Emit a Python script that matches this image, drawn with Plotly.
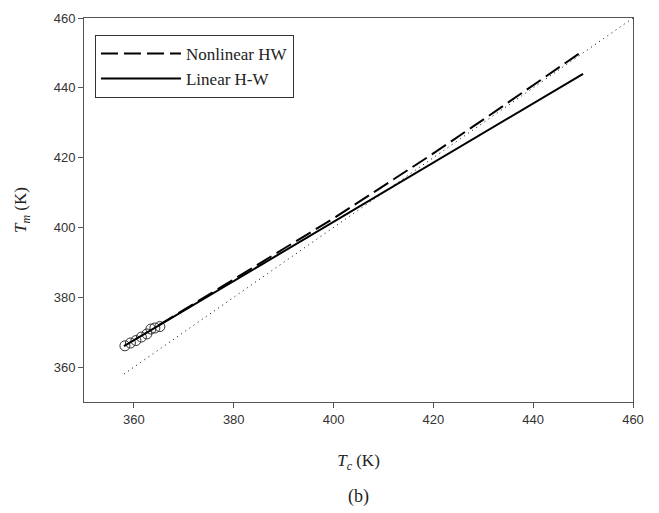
import plotly.graph_objects as go

# Data
obs_tc = [358.2, 359.3, 360.4, 361.5, 362.6, 363.4, 364.2, 365.2]
obs_tm = [366.1, 366.9, 367.6, 368.6, 369.5, 370.9, 371.2, 371.6]

nonlin_tc = [365, 370, 380, 390, 400, 410, 420, 430, 440, 450]
nonlin_tm = [372.0, 376.4, 385.3, 393.9, 402.6, 411.8, 421.2, 430.9, 440.8, 450.6]

lin_tc = [358, 450]
lin_tm = [366.0, 444.0]

diag_tc = [358, 460]
diag_tm = [358, 460]

serif = "Liberation Serif, Times New Roman, serif"
sans = "Liberation Sans, Arial, sans-serif"

fig = go.Figure()
fig.add_trace(go.Scatter(x=diag_tc, y=diag_tm, mode="lines",
                         line=dict(color="black", width=1, dash="1px,4px"),
                         showlegend=False, hoverinfo="skip"))
fig.add_trace(go.Scatter(x=obs_tc, y=obs_tm, mode="markers",
                         marker=dict(symbol="circle-open", size=10, color="#333",
                                     line=dict(width=1, color="#333")),
                         showlegend=False))
fig.add_trace(go.Scatter(x=nonlin_tc, y=nonlin_tm, mode="lines", name="Nonlinear HW",
                         line=dict(color="black", width=2, dash="17px,6px")))
fig.add_trace(go.Scatter(x=lin_tc, y=lin_tm, mode="lines", name="Linear H-W",
                         line=dict(color="black", width=2)))

axis_common = dict(showline=True, linecolor="#555", linewidth=1, mirror=True,
                   ticks="outside", ticklen=5, tickcolor="#555", showgrid=False,
                   zeroline=False, tickfont=dict(family=sans, size=13, color="#333"),
                   dtick=20)

fig.update_layout(
    width=659, height=513,
    margin=dict(l=84, r=26, t=18, b=111),
    plot_bgcolor="white", paper_bgcolor="white",
    xaxis=dict(range=[350, 460], tick0=360,
               title=dict(text="<i>T</i><sub><i>c</i></sub> (K)",
                          font=dict(family=serif, size=17, color="#222"), standoff=28),
               **axis_common),
    yaxis=dict(range=[350, 460], tick0=360,
               title=dict(text="<i>T</i><sub><i>m</i></sub> (K)",
                          font=dict(family=serif, size=17, color="#222"), standoff=22),
               **axis_common),
    legend=dict(x=0.02, y=0.956, xanchor="left", yanchor="top",
                bordercolor="#333", borderwidth=1, bgcolor="white",
                font=dict(family=serif, size=17, color="#222"),
                entrywidth=196, itemwidth=80),
    annotations=[dict(text="(b)", xref="paper", yref="paper", x=0.5, y=-0.247,
                      xanchor="center", yanchor="middle", showarrow=False,
                      font=dict(family=serif, size=18, color="#222"))],
)

fig.write_html("out.html")
